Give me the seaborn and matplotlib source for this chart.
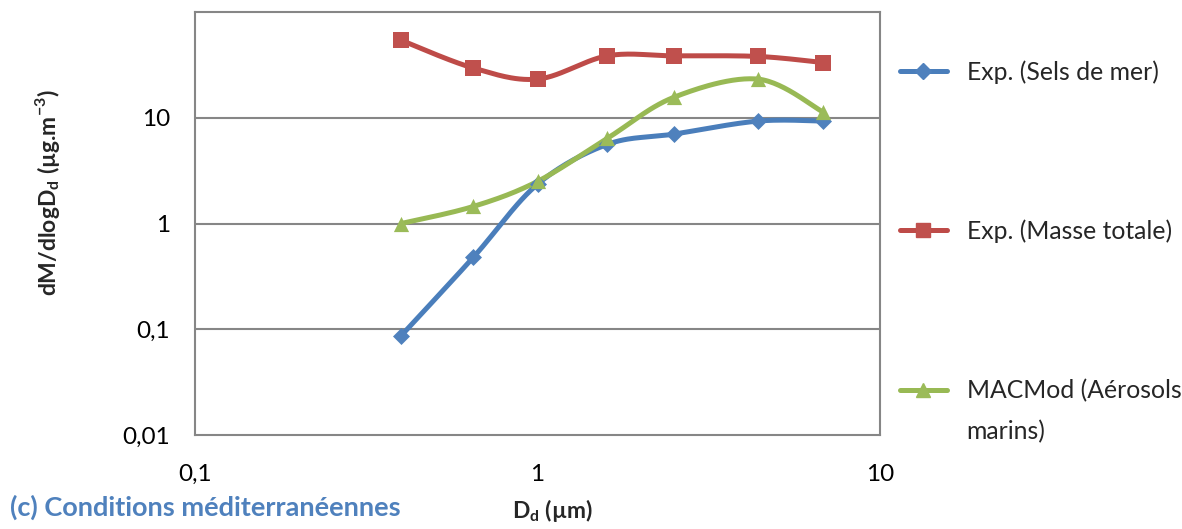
import numpy as np
import pandas as pd
import matplotlib
matplotlib.use("Agg")
import matplotlib.pyplot as plt
from matplotlib.lines import Line2D
from matplotlib.ticker import FixedLocator, NullLocator, FixedFormatter
import seaborn as sns

# ---- data ----
diam = [0.4, 0.65, 1.0, 1.6, 2.5, 4.4, 6.8]
sels_de_mer = [0.087, 0.48, 2.35, 5.6, 7.0, 9.3, 9.3]
masse_totale = [54.0, 29.5, 23.2, 38.5, 38.5, 38.0, 33.3]
macmod = [1.0, 1.45, 2.5, 6.4, 15.6, 23.2, 11.4]
series_names = ["Exp. (Sels de mer)", "Exp. (Masse totale)", "MACMod (Aérosols marins)"]
x_ticks = [0.1, 1, 10]
x_ticklabels = ["0,1", "1", "10"]
y_ticks = [0.01, 0.1, 1, 10]
y_ticklabels = ["0,01", "0,1", "1", "10"]

line_colors = ["#4A7EBB", "#BE4B48", "#98B954"]
marker_colors = ["#4F81BD", "#C0504D", "#9BBB59"]
markers = ["D", "s", "^"]
marker_sizes = [75, 120, 120]

sns.set_style("white")
FONT = ["Lato", "DejaVu Sans"]
plt.rcParams["font.family"] = FONT
plt.rcParams["mathtext.fontset"] = "custom"
plt.rcParams["mathtext.rm"] = "Lato"
plt.rcParams["mathtext.bf"] = "Lato:bold"

fig = plt.figure(figsize=(11.82, 5.29), dpi=100)
ax = fig.add_axes([195 / 1182, 1 - 435 / 529, (880 - 195) / 1182, (435 - 12) / 529])


def smooth(xs, ys, n=30):
    """Catmull-Rom (Excel-like) smoothing in log-log space."""
    lx = np.log10(xs)
    ly = np.log10(ys)
    P = np.column_stack([lx, ly])
    out = []
    for i in range(len(P) - 1):
        p0 = P[i - 1] if i > 0 else P[i]
        p1 = P[i]
        p2 = P[i + 1]
        p3 = P[i + 2] if i + 2 < len(P) else P[i + 1]
        c1 = p1 + (p2 - p0) / 6
        c2 = p2 - (p3 - p1) / 6
        t = np.linspace(0, 1, n)[:, None]
        seg = ((1 - t) ** 3) * p1 + 3 * ((1 - t) ** 2) * t * c1 + 3 * (1 - t) * t ** 2 * c2 + t ** 3 * p2
        out.append(seg if i == 0 else seg[1:])
    arr = np.vstack(out)
    return 10 ** arr[:, 0], 10 ** arr[:, 1]


all_series = [sels_de_mer, masse_totale, macmod]
for vals, lc, mc, mk, ms in zip(all_series, line_colors, marker_colors, markers, marker_sizes):
    sx, sy = smooth(diam, vals)
    sns.lineplot(x=sx, y=sy, sort=False, estimator=None, color=lc, linewidth=3.6, ax=ax, zorder=3)
    sns.scatterplot(x=diam, y=vals, marker=mk, s=ms, color=mc, edgecolor=mc, linewidth=0, ax=ax, zorder=4)

ax.set_xscale("log")
ax.set_yscale("log")
ax.set_xlim(0.1, 10)
ax.set_ylim(0.01, 100)

ax.xaxis.set_major_locator(FixedLocator(x_ticks))
ax.xaxis.set_major_formatter(FixedFormatter(x_ticklabels))
ax.yaxis.set_major_locator(FixedLocator(y_ticks))
ax.yaxis.set_major_formatter(FixedFormatter(y_ticklabels))
ax.xaxis.set_minor_locator(NullLocator())
ax.yaxis.set_minor_locator(NullLocator())

gray = "#868686"
ax.grid(False)
for v in y_ticks[1:]:
    ax.axhline(v, color=gray, linewidth=1.5, zorder=1)
for sp in ax.spines.values():
    sp.set_visible(True)
    sp.set_color(gray)
    sp.set_linewidth(1.5)

ax.tick_params(axis="both", which="major", direction="out", length=6, width=1.5,
               color=gray, labelsize=17.5, labelcolor="black")
ax.tick_params(axis="x", pad=15)
ax.tick_params(axis="y", pad=12)

ax.set_ylabel(r"dM/dlogD$_{\mathbf{d}}$ (µg.m$^{\mathbf{-3}}$)", fontsize=16.5, fontweight="bold")
ax.yaxis.set_label_coords((62 - 195) / 685, 0.574)
ax.set_xlabel(r"D$_{\mathbf{d}}$ (µm)", fontsize=16.5, fontweight="bold")
ax.xaxis.set_label_coords((552 - 195) / 685, -(497 - 435) / 423)

fig.text(10 / 1182, 1 - 507 / 529, "(c) Conditions méditerranéennes", fontsize=19.5,
         fontweight="bold", color="#4F81BD", va="center", ha="left")

# legend (three separate blocks, as in the reference)
def handle(i):
    return Line2D([0], [0], color=line_colors[i], linewidth=3.6, marker=markers[i],
                  markersize=[8.5, 10.5, 10.5][i], markerfacecolor=marker_colors[i],
                  markeredgecolor=marker_colors[i])

leg_kw = dict(frameon=False, fontsize=17.8, handlelength=1.9, handletextpad=0.8,
              borderaxespad=0, borderpad=0, loc="center left")
leg1 = fig.legend([handle(0)], [series_names[0]], bbox_to_anchor=(900 / 1182, 1 - 72 / 529), **leg_kw)
leg2 = fig.legend([handle(1)], [series_names[1]], bbox_to_anchor=(900 / 1182, 1 - 231 / 529), **leg_kw)
blank = Line2D([0], [0], color="none")
label3a, label3b = "MACMod (Aérosols", "marins)"
leg3 = fig.legend([handle(2), blank], [label3a, label3b], labelspacing=0.7,
                  bbox_to_anchor=(900 / 1182, 1 - 411 / 529), **leg_kw)

fig.savefig("out.png", dpi=100)
